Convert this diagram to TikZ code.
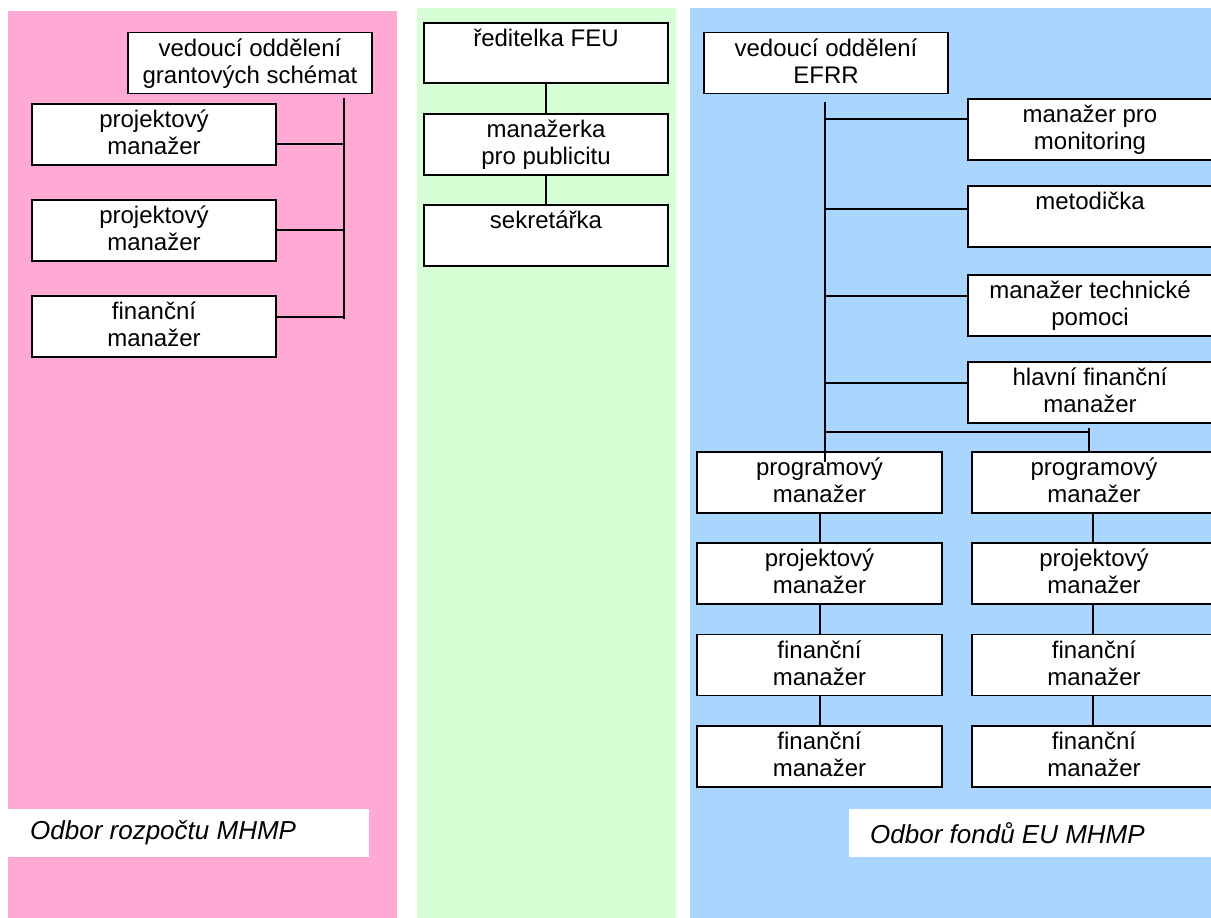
\documentclass[tikz,border=0pt]{standalone}
\usepackage{fontspec}
\setmainfont{Liberation Sans}
\definecolor{pinkbg}{HTML}{FFAAD4}
\definecolor{greenbg}{HTML}{D6FFD6}
\definecolor{bluebg}{HTML}{AAD5FF}
\newcommand\twol[2]{\rule{0pt}{20pt}#1\\#2\rule[-7pt]{0pt}{7pt}}
\begin{document}
\begin{tikzpicture}[x=1pt,y=-1pt,
  box/.style={draw=black, fill=white, line width=1.6pt, minimum width=244pt, minimum height=61pt, inner sep=0pt, align=center, font=\fontsize{24}{27}\selectfont},
  conn/.style={draw=black, line width=1.4pt},
  lbl/.style={fill=white, inner sep=0pt, anchor=west, font=\fontsize{26}{28}\selectfont\itshape}]
\useasboundingbox (0,0) rectangle (1211,918);
\clip (0,0) rectangle (1211,918);
% backgrounds
\fill[pinkbg] (8,11) rectangle (397,918);
\fill[greenbg] (417,8) rectangle (676,918);
\fill[bluebg] (690,8) rectangle (1211,918);
% pink column
\node[box] (a0) at (250,63) {\twol{vedoucí oddělení}{grantových schémat}};
\node[box] (a1) at (154,134.5) {\twol{projektový}{manažer}};
\node[box] (a2) at (154,230.5) {\twol{projektový}{manažer}};
\node[box] (a3) at (154,326.5) {\twol{finanční}{manažer}};
\coordinate (abusT) at (344,98);
\coordinate (abusB) at (344,319);
\draw[conn] (abusT) -- (abusB);
\draw[conn] (a1.east |- 0,144) -- (abusT |- 0,144);
\draw[conn] (a2.east |- 0,230) -- (abusT |- 0,230);
\draw[conn] (a3.east |- 0,317) -- (abusT |- 0,317);
% green column
\node[box, minimum height=60pt] (b0) at (546,53) {\twol{ředitelka FEU}{}};
\node[box] (b1) at (546,144.5) {\twol{manažerka}{pro publicitu}};
\node[box] (b2) at (546,235.5) {\twol{sekretářka}{}};
\draw[conn] (b0) -- (b1);
\draw[conn] (b1) -- (b2);
% blue column
\node[box] (c0) at (826,63) {\twol{vedoucí oddělení}{EFRR}};
\node[box] (r1) at (1090,129.5) {\twol{manažer pro}{monitoring}};
\node[box] (r2) at (1090,216.5) {\twol{metodička}{}};
\node[box] (r3) at (1090,305.5) {\twol{manažer technické}{pomoci}};
\node[box] (r4) at (1090,392.5) {\twol{hlavní finanční}{manažer}};
\node[box, minimum width=245pt] (l1) at (819.5,482.5) {\twol{programový}{manažer}};
\node[box, minimum width=245pt] (l2) at (819.5,573.5) {\twol{projektový}{manažer}};
\node[box, minimum width=245pt] (l3) at (819.5,665) {\twol{finanční}{manažer}};
\node[box, minimum width=245pt] (l4) at (819.5,756.5) {\twol{finanční}{manažer}};
\node[box] (m1) at (1094,482.5) {\twol{programový}{manažer}};
\node[box] (m2) at (1094,573.5) {\twol{projektový}{manažer}};
\node[box] (m3) at (1094,665) {\twol{finanční}{manažer}};
\node[box] (m4) at (1094,756.5) {\twol{finanční}{manažer}};
\coordinate (cbusT) at (825,102);
\coordinate (cbusB) at (825,462);
\draw[conn] (cbusT) -- (cbusB);
\draw[conn] (cbusT |- 0,119) -- (r1.west |- 0,119);
\draw[conn] (cbusT |- 0,209) -- (r2.west |- 0,209);
\draw[conn] (cbusT |- 0,296) -- (r3.west |- 0,296);
\draw[conn] (cbusT |- 0,383) -- (r4.west |- 0,383);
\coordinate (rbr) at (1089,432);
\draw[conn] (cbusT |- rbr) -- (rbr);
\draw[conn] (1089,428) -- (1089,452);
\draw[conn] (l1.south -| 820,0) -- (l2.north -| 820,0);
\draw[conn] (l2.south -| 820,0) -- (l3.north -| 820,0);
\draw[conn] (l3.south -| 820,0) -- (l4.north -| 820,0);
\draw[conn] (m1.south -| 1093,0) -- (m2.north -| 1093,0);
\draw[conn] (m2.south -| 1093,0) -- (m3.north -| 1093,0);
\draw[conn] (m3.south -| 1093,0) -- (m4.north -| 1093,0);
% labels
\fill[white] (8,809) rectangle (369,857);
\node[lbl] (lp) at (30,833) {Odbor rozpočtu MHMP};
\fill[white] (849,809) rectangle (1215,857);
\node[lbl] (lb) at (870,833) {Odbor fondů EU MHMP};
\end{tikzpicture}
\end{document}
